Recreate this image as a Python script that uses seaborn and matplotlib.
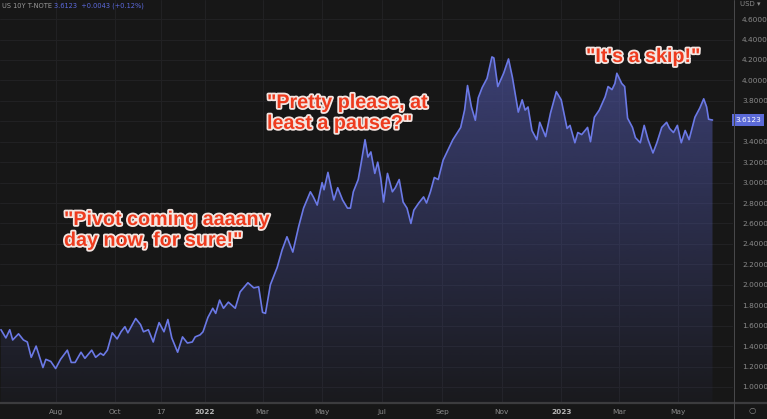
import matplotlib
matplotlib.use('Agg')
import matplotlib.pyplot as plt
import matplotlib.dates as mdates
import matplotlib.patheffects as pe
from matplotlib.patches import Polygon
from matplotlib.lines import Line2D
import numpy as np
import pandas as pd
import seaborn as sns

# US 10Y T-Note yield
dates = [
    '2021-06-06', '2021-06-11', '2021-06-15', '2021-06-18', '2021-06-24', '2021-06-29',
    '2021-07-03', '2021-07-07', '2021-07-12', '2021-07-16', '2021-07-19', '2021-07-22',
    '2021-07-27', '2021-08-01', '2021-08-06', '2021-08-13', '2021-08-17', '2021-08-21',
    '2021-08-27', '2021-08-31', '2021-09-07', '2021-09-11', '2021-09-16', '2021-09-19',
    '2021-09-23', '2021-09-28', '2021-10-03', '2021-10-07', '2021-10-11', '2021-10-14',
    '2021-10-22', '2021-10-27', '2021-10-30', '2021-11-04', '2021-11-09', '2021-11-11',
    '2021-11-15', '2021-11-20', '2021-11-24', '2021-11-28', '2021-12-04', '2021-12-09',
    '2021-12-14', '2021-12-19', '2021-12-22', '2021-12-27', '2021-12-30', '2022-01-04',
    '2022-01-09', '2022-01-12', '2022-01-16', '2022-01-20', '2022-01-25', '2022-02-01',
    '2022-02-06', '2022-02-14', '2022-02-20', '2022-02-25', '2022-03-01', '2022-03-04',
    '2022-03-09', '2022-03-16', '2022-03-21', '2022-03-26', '2022-04-01', '2022-04-07',
    '2022-04-12', '2022-04-19', '2022-04-22', '2022-04-26', '2022-05-01', '2022-05-03',
    '2022-05-07', '2022-05-13', '2022-05-17', '2022-05-22', '2022-05-27', '2022-05-30',
    '2022-06-02', '2022-06-07', '2022-06-10', '2022-06-14', '2022-06-17', '2022-06-20',
    '2022-06-24', '2022-06-27', '2022-06-30', '2022-07-03', '2022-07-07', '2022-07-12',
    '2022-07-15', '2022-07-19', '2022-07-23', '2022-07-27', '2022-07-31', '2022-08-03',
    '2022-08-08', '2022-08-13', '2022-08-16', '2022-08-20', '2022-08-24', '2022-08-28',
    '2022-09-02', '2022-09-07', '2022-09-12', '2022-09-20', '2022-09-24', '2022-09-27',
    '2022-10-01', '2022-10-05', '2022-10-08', '2022-10-12', '2022-10-17', '2022-10-22',
    '2022-10-24', '2022-10-28', '2022-11-03', '2022-11-08', '2022-11-12', '2022-11-15',
    '2022-11-18', '2022-11-22', '2022-11-25', '2022-11-28', '2022-12-02', '2022-12-07',
    '2022-12-10', '2022-12-16', '2022-12-21', '2022-12-27', '2023-01-01', '2023-01-07',
    '2023-01-10', '2023-01-15', '2023-01-18', '2023-01-22', '2023-01-28', '2023-01-31',
    '2023-02-04', '2023-02-09', '2023-02-15', '2023-02-18', '2023-02-22', '2023-02-25',
    '2023-02-27', '2023-03-04', '2023-03-07', '2023-03-10', '2023-03-15', '2023-03-18',
    '2023-03-23', '2023-03-27', '2023-03-31', '2023-04-05', '2023-04-09', '2023-04-14',
    '2023-04-19', '2023-04-22', '2023-04-26', '2023-04-30', '2023-05-04', '2023-05-08',
    '2023-05-12', '2023-05-18', '2023-05-23', '2023-05-27', '2023-05-30', '2023-06-01',
    '2023-06-05',
]
yields = [
    1.56, 1.48, 1.56, 1.46, 1.52, 1.46,
    1.44, 1.29, 1.40, 1.28, 1.19, 1.27,
    1.25, 1.18, 1.27, 1.36, 1.24, 1.24,
    1.34, 1.28, 1.36, 1.29, 1.33, 1.31,
    1.36, 1.53, 1.47, 1.54, 1.59, 1.53,
    1.67, 1.61, 1.54, 1.56, 1.44, 1.51,
    1.63, 1.54, 1.66, 1.48, 1.34, 1.49,
    1.43, 1.44, 1.49, 1.51, 1.54, 1.68,
    1.77, 1.72, 1.85, 1.77, 1.83, 1.77,
    1.93, 2.02, 1.97, 1.98, 1.73, 1.72,
    2.00, 2.17, 2.34, 2.47, 2.32, 2.57,
    2.75, 2.91, 2.86, 2.78, 3.00, 2.93,
    3.10, 2.83, 2.95, 2.83, 2.75, 2.75,
    2.91, 3.03, 3.19, 3.42, 3.25, 3.30,
    3.09, 3.20, 3.05, 2.81, 3.09, 2.91,
    2.95, 3.03, 2.81, 2.75, 2.60, 2.73,
    2.80, 2.86, 2.80, 2.91, 3.05, 3.03,
    3.22, 3.32, 3.42, 3.54, 3.71, 3.95,
    3.74, 3.61, 3.83, 3.93, 4.02, 4.23,
    4.22, 3.94, 4.07, 4.21, 4.03, 3.86,
    3.69, 3.81, 3.71, 3.74, 3.51, 3.42,
    3.59, 3.45, 3.68, 3.89, 3.81, 3.53,
    3.56, 3.39, 3.49, 3.47, 3.54, 3.40,
    3.64, 3.71, 3.84, 3.94, 3.91, 3.97,
    4.07, 3.97, 3.94, 3.63, 3.54, 3.44,
    3.39, 3.56, 3.42, 3.29, 3.39, 3.54,
    3.59, 3.53, 3.49, 3.56, 3.39, 3.51,
    3.42, 3.64, 3.73, 3.82, 3.74, 3.62,
    3.6123,
]

tick_dates = ['2021-08-01', '2021-10-01', '2021-11-17', '2022-01-01', '2022-03-01', '2022-05-01',
              '2022-07-01', '2022-09-01', '2022-11-01', '2023-01-01', '2023-03-01', '2023-05-01']
tick_labels = ['Aug', 'Oct', '17', '2022', 'Mar', 'May', 'Jul', 'Sep', 'Nov', '2023', 'Mar', 'May']
price_ticks = [1.0, 1.2, 1.4, 1.6, 1.8, 2.0, 2.2, 2.4, 2.6, 2.8, 3.0, 3.2, 3.4, 3.6,
               3.8, 4.0, 4.2, 4.4, 4.6]
last_price = 3.6123
header_name = 'US 10Y T-NOTE'
header_quote = '3.6123  +0.0043 (+0.12%)'

notes = [
    ('"Pivot coming aaaany\nday now, for sure!"', 64, 210),
    ('"Pretty please, at\nleast a pause?"', 267, 93),
    ('"It\'s a skip!"', 586, 47),
]

bg = '#171717'
line_col = '#6b79e6'
grid_col = '#222224'
txt_col = '#8a8a8a'

df = pd.DataFrame({'date': pd.to_datetime(dates), 'yield': yields})

sns.set_theme(style='dark', rc={'figure.facecolor': bg, 'axes.facecolor': bg})
plt.rcParams['font.family'] = ['DejaVu Sans']

W, H = 767, 419
fig = plt.figure(figsize=(W / 100, H / 100), dpi=100)
ax = fig.add_axes([0, 16 / H, 733 / W, 403 / H])

ymin, ymax = 0.843, 4.787
xlo, xhi = pd.Timestamp('2021-06-05'), pd.Timestamp('2023-06-26')

# grid
for v in price_ticks:
    ax.axhline(v, color=grid_col, lw=0.7, zorder=0)
for d in tick_dates:
    ax.axvline(pd.Timestamp(d), color=grid_col, lw=0.7, zorder=0)

# gradient fill under the line
xnum = mdates.date2num(df['date'])
verts = np.column_stack([np.r_[xnum[0], xnum, xnum[-1]], np.r_[ymin, df['yield'], ymin]])
poly = Polygon(verts, closed=True, facecolor='none', edgecolor='none')
ax.add_patch(poly)
n = 256
rgba = np.zeros((n, 1, 4))
rgba[..., 0] = 88 / 255
rgba[..., 1] = 96 / 255
rgba[..., 2] = 190 / 255
rgba[..., 3] = np.linspace(0.55, 0.04, n).reshape(-1, 1)
im = ax.imshow(rgba, extent=[xnum[0], xnum[-1], ymin, df['yield'].max()], origin='upper',
               aspect='auto', zorder=1, interpolation='bilinear')
im.set_clip_path(poly)

sns.lineplot(data=df, x='date', y='yield', ax=ax, color=line_col, lw=1.2, zorder=3)

ax.set_xlim(xlo, xhi)
ax.set_ylim(ymin, ymax)
ax.set_xlabel('')
ax.set_ylabel('')
for s in ax.spines.values():
    s.set_visible(False)
ax.grid(False)

# the 3.6 label sits under the last-price tag, so leave it blank
ax.yaxis.tick_right()
ax.set_yticks(price_ticks)
ax.set_yticklabels(['' if v == 3.6 else f'{v:.4f}' for v in price_ticks])
ax.tick_params(axis='y', length=0, pad=6.5, labelsize=5.3, labelcolor=txt_col)

ax.set_xticks([pd.Timestamp(d) for d in tick_dates])
ax.set_xticklabels(tick_labels)
ax.tick_params(axis='x', length=0, pad=4, labelsize=5.3, labelcolor=txt_col)
for lab in ax.get_xticklabels():
    if lab.get_text() in ('2022', '2023'):
        lab.set_fontweight('bold')
        lab.set_color('#b5b5b5')

# last price marker on the scale
ax.annotate(f'{last_price:.4f}', xy=(1, last_price), xycoords=('axes fraction', 'data'),
            xytext=(1.5, 0), textcoords='offset points', ha='left', va='center',
            fontsize=5.3, color='white', annotation_clip=False, zorder=10,
            bbox=dict(boxstyle='square,pad=0.45', fc='#5b6ad8', ec='none'))

# axis frame lines
fig.add_artist(Line2D([0, 1], [16 / H, 16 / H], color='#3c3c3e', lw=1.6))
fig.add_artist(Line2D([734 / W, 734 / W], [0, 1], color='#4a4a4c', lw=0.7))

fig.text(740 / W, 1 - 4 / H, 'USD ▾', color=txt_col, fontsize=5, va='center', ha='left')
fig.text(752 / W, 1 - 410 / H, '○', color=txt_col, fontsize=6, va='center', ha='center')
fig.text(2 / W, 1 - 6 / H, header_name, color='#9a9a9a', fontsize=4.8, va='center', ha='left')
fig.text(54 / W, 1 - 6 / H, header_quote, color='#5d6be0', fontsize=4.8, va='center', ha='left')

for text, px, py in notes:
    fig.text(px / W, 1 - py / H, text, color='#ee3b1e', fontsize=14.2, fontweight='bold',
             family='Liberation Sans', va='top', ha='left', linespacing=1.12,
             path_effects=[pe.withStroke(linewidth=2.6, foreground='#f4e6e2')])

fig.savefig('out.png', dpi=100, facecolor=bg)
